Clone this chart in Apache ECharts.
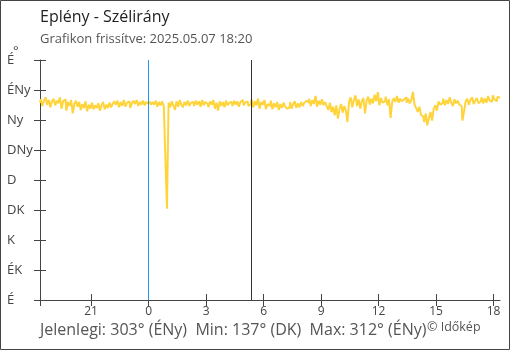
<!DOCTYPE html>
<html>
<head>
<meta charset="utf-8">
<script src="https://cdn.jsdelivr.net/npm/echarts@6/dist/echarts.min.js"></script>
<style>
html,body{margin:0;padding:0;background:#fff;}
#chart{width:510px;height:350px;}
</style>
</head>
<body>
<div id="chart"></div>
<script>
// ---- data ----
const titleText = 'Eplény - Szélirány';
const subtitleText = 'Grafikon frissítve: 2025.05.07 18:20';
const footerText = 'Jelenlegi: 303° (ÉNy)  Min: 137° (DK)  Max: 312° (ÉNy)';
const copyrightText = '© Időkép';

// time in hours relative to midnight 2025.05.07 (range 18:20 prev day .. 18:20)
const startHour = -17 / 3;
const endHour = 55 / 3;
const stepMinutes = 5;

const yTickLabels = ['É', 'ÉK', 'K', 'DK', 'D', 'DNy', 'Ny', 'ÉNy', 'É'];
const xTickHours = [-3, 0, 3, 6, 9, 12, 15, 18];
const markerHours = [0, 16 / 3];

// wind direction (degrees), 5-minute samples, one row per hour
const windDir = [
  296,301,291,299,304,293,300,289,298,302,292,299,
  295,304,287,298,301,284,297,291,300,280,294,299,
  290,297,285,294,288,298,283,293,287,296,286,292,
  288,295,284,292,297,286,293,288,296,289,294,298,
  293,299,289,297,291,300,290,296,298,288,295,299,
  294,300,291,297,293,299,292,297,294,298,293,297,
  293,299,290,297,292,298,291,214,137,296,289,298,
  292,285,298,290,300,293,289,297,292,299,291,296,
  297,291,299,293,298,290,300,292,297,294,289,298,
  293,300,287,296,284,298,291,297,289,299,292,296,
  297,291,299,293,298,290,297,300,292,296,298,291,
  294,301,289,298,292,302,287,297,293,300,286,294,
  291,299,286,295,289,297,285,294,288,296,290,287,
  290,297,287,294,298,288,295,289,297,291,296,299,
  296,302,291,300,294,306,290,299,293,301,292,297,
  291,285,296,282,290,277,292,272,286,294,281,291,
  284,267,297,304,289,300,307,291,301,287,298,303,
  280,299,305,293,302,295,308,298,312,292,303,296,
  298,305,292,301,273,297,303,297,306,296,302,298,
  301,304,296,302,295,300,312,293,288,282,290,278,
  275,267,280,262,273,282,269,287,292,284,298,293,
  295,302,292,300,294,304,296,291,301,295,299,293,
  291,269,283,298,302,293,300,304,294,299,303,295,
  298,304,295,302,296,306,299,297,307,301,298,305,
  303
];

// ---- chart ----
const seriesData = windDir.map((v, i) => [startHour + i * stepMinutes / 60, v]);
const fontFam = "'Open Sans', 'Noto Sans', sans-serif";
const axisColor = '#444';
const xTickAll = [startHour].concat(xTickHours);

const chart = echarts.init(document.getElementById('chart'), null, {renderer: 'canvas'});
chart.setOption({
  animation: false,
  backgroundColor: '#fff',
  textStyle: {fontFamily: fontFam},
  title: [
    {text: titleText, left: 40, top: 9, padding: 0,
     textStyle: {fontSize: 16, fontWeight: 'normal', color: '#222', fontFamily: fontFam}},
    {text: subtitleText, left: 40, top: 33, padding: 0,
     textStyle: {fontSize: 13, fontWeight: 'normal', color: '#555', fontFamily: fontFam}},
    {text: footerText, left: 40, top: 322, padding: 0,
     textStyle: {fontSize: 16, fontWeight: 'normal', color: '#555', fontFamily: fontFam}},
    {text: copyrightText, left: 427, top: 321, padding: 0,
     textStyle: {fontSize: 12.5, fontWeight: 'normal', color: '#555', fontFamily: fontFam}}
  ],
  graphic: [
    {type: 'rect', shape: {x: 0.5, y: 0.5, width: 509, height: 349},
     style: {fill: 'none', stroke: '#444', lineWidth: 1}, silent: true},
    {type: 'text', left: 13, top: 45,
     style: {text: '°', fontSize: 13, fill: '#444', fontFamily: fontFam}}
  ],
  grid: {left: 40, right: 10, top: 60, bottom: 50, containLabel: false},
  xAxis: [
    {type: 'value', min: startHour, max: endHour,
     axisLine: {show: true, onZero: false, lineStyle: {color: axisColor, width: 1}},
     axisTick: {show: true, length: 6, inside: false, customValues: xTickAll,
                lineStyle: {color: axisColor}},
     axisLabel: {show: true, customValues: xTickHours, margin: 6, fontSize: 12,
                 color: '#444', fontFamily: fontFam,
                 formatter: v => String(((Math.round(v) % 24) + 24) % 24)},
     splitLine: {show: false}},
    {type: 'value', min: startHour, max: endHour, position: 'bottom',
     axisLine: {show: false, onZero: false},
     axisTick: {show: true, length: 6, inside: true, customValues: xTickHours,
                lineStyle: {color: axisColor}},
     axisLabel: {show: false},
     splitLine: {show: false}}
  ],
  yAxis: [
    {type: 'value', min: 0, max: 360, interval: 45,
     axisLine: {show: true, onZero: false, lineStyle: {color: axisColor, width: 1}},
     axisTick: {show: true, length: 6, inside: false, lineStyle: {color: axisColor}},
     axisLabel: {show: true, align: 'left', margin: 33, fontSize: 13, color: '#444',
                 fontFamily: fontFam,
                 formatter: v => yTickLabels[Math.round(v / 45)]},
     splitLine: {show: false}},
    {type: 'value', min: 0, max: 360, interval: 45, position: 'left',
     axisLine: {show: false, onZero: false},
     axisTick: {show: true, length: 6, inside: true, lineStyle: {color: axisColor}},
     axisLabel: {show: false},
     splitLine: {show: false}}
  ],
  series: [{
    type: 'line',
    xAxisIndex: 0, yAxisIndex: 0,
    data: seriesData,
    step: 'middle',
    showSymbol: false,
    symbol: 'none',
    lineStyle: {color: '#ffd43b', width: 2},
    itemStyle: {color: '#ffd43b'},
    markLine: {
      silent: true, symbol: ['none', 'none'], label: {show: false},
      data: [
        {xAxis: markerHours[0], lineStyle: {color: '#2196f3', width: 1, type: 'solid'}},
        {xAxis: markerHours[1], lineStyle: {color: '#333', width: 1, type: 'solid'}}
      ]
    }
  }]
});
</script>
</body>
</html>
